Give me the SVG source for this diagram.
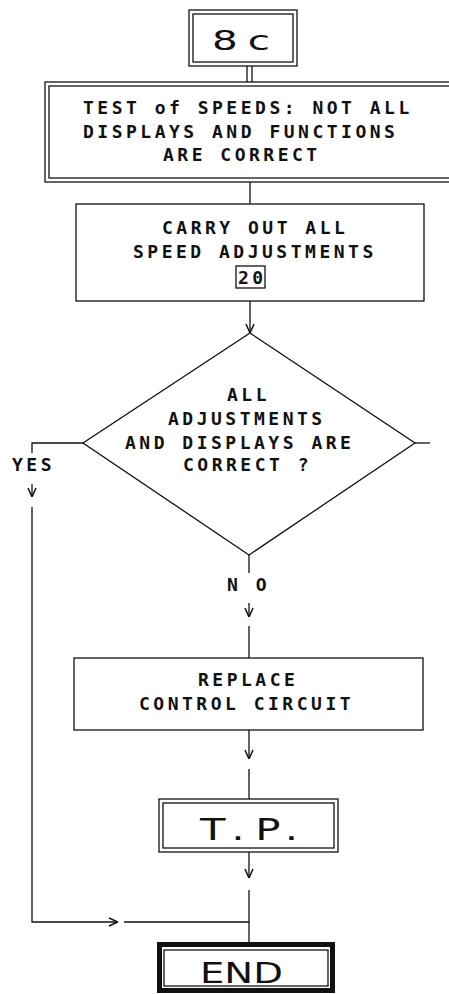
<svg xmlns="http://www.w3.org/2000/svg" width="449" height="994" viewBox="0 0 449 994">
<style>
.ln{fill:none;stroke:#111;stroke-width:1.3}
.bx{fill:#fff;stroke:#111;stroke-width:1.3}
.t{font-family:"DejaVu Sans Mono","Liberation Mono",monospace;font-size:18px;font-weight:bold;letter-spacing:3.5px;fill:#111}
.big{font-family:"DejaVu Sans","Liberation Sans",sans-serif;fill:#111}
</style>
<defs>
<marker id="ah" viewBox="0 0 10 10" refX="10" refY="5" markerWidth="10" markerHeight="10" markerUnits="userSpaceOnUse" orient="auto">
<path d="M1,1 L10,5 L1,9" fill="none" stroke="#111" stroke-width="1.5"/>
</marker>
</defs>
<rect width="449" height="994" fill="#fff"/>
<g id="connectors">
<line class="ln" x1="247" y1="66" x2="247" y2="82"/>
<line class="ln" x1="252" y1="66" x2="252" y2="82"/>
<line class="ln" x1="250" y1="182" x2="250" y2="204"/>
<line class="ln" x1="250" y1="301" x2="250" y2="333" marker-end="url(#ah)"/>
<polyline class="ln" points="83,443 32,443 32,453"/>
<line class="ln" x1="32" y1="484" x2="32" y2="497" marker-end="url(#ah)"/>
<polyline class="ln" points="32,507 32,922 118,922" marker-end="url(#ah)"/>
<line class="ln" x1="124" y1="922" x2="249" y2="922"/>
<line class="ln" x1="415" y1="443" x2="430" y2="443"/>
<line class="ln" x1="249" y1="555" x2="249" y2="573"/>
<line class="ln" x1="249" y1="603" x2="249" y2="617" marker-end="url(#ah)"/>
<line class="ln" x1="249" y1="626" x2="249" y2="658"/>
<line class="ln" x1="249" y1="730" x2="249" y2="759" marker-end="url(#ah)"/>
<line class="ln" x1="249" y1="769" x2="249" y2="799"/>
<line class="ln" x1="249" y1="852" x2="249" y2="878" marker-end="url(#ah)"/>
<line class="ln" x1="249" y1="890" x2="249" y2="943"/>
</g>
<g id="n8c">
<rect class="bx" x="189" y="10" width="108" height="56"/>
<rect class="bx" x="193" y="14" width="100" height="48"/>
<text class="big" transform="translate(212,50) scale(1.5,1)" x="0" y="0" style="font-size:27px" textLength="38.7" lengthAdjust="spacing">8c</text>
</g>
<g id="test">
<rect class="bx" x="45" y="82" width="420" height="100"/>
<rect class="bx" x="49" y="86" width="412" height="92"/>
<text class="t" x="83" y="114">TEST of SPEEDS: NOT ALL</text>
<text class="t" x="83" y="138">DISPLAYS AND FUNCTIONS</text>
<text class="t" x="163" y="161">ARE CORRECT</text>
</g>
<g id="carry">
<rect class="bx" x="76" y="204" width="348" height="97"/>
<text class="t" x="162" y="234">CARRY OUT ALL</text>
<text class="t" x="133" y="258">SPEED ADJUSTMENTS</text>
<rect class="bx" x="236" y="266" width="29" height="22"/>
<text class="t" x="238" y="284">20</text>
</g>
<g id="decision">
<polygon class="bx" points="250,333 415,443 249,555 83,443"/>
<text class="t" x="227" y="401">ALL</text>
<text class="t" x="168" y="425">ADJUSTMENTS</text>
<text class="t" x="125" y="449">AND DISPLAYS ARE</text>
<text class="t" x="183" y="471">CORRECT ?</text>
</g>
<g id="labels">
<text class="t" x="12" y="471">YES</text>
<text class="t" x="227" y="591">N O</text>
</g>
<g id="replace">
<rect class="bx" x="74" y="658" width="349" height="72"/>
<text class="t" x="198" y="686">REPLACE</text>
<text class="t" x="139" y="710">CONTROL CIRCUIT</text>
</g>
<g id="tp">
<rect class="bx" x="159" y="799" width="179" height="53"/>
<rect class="bx" x="163" y="803" width="171" height="45"/>
<text class="big" transform="translate(200,840) scale(1.35,1)" x="0" y="0" style="font-size:31px" textLength="72.6" lengthAdjust="spacing">T.P.</text>
</g>
<g id="end">
<rect x="159.5" y="944.5" width="173" height="46" fill="#fff" stroke="#111" stroke-width="5"/>
<rect class="bx" x="164" y="950" width="164" height="36"/>
<text class="big" transform="translate(200,983) scale(1.33,1)" x="0" y="0" style="font-size:29px">END</text>
</g>
</svg>
